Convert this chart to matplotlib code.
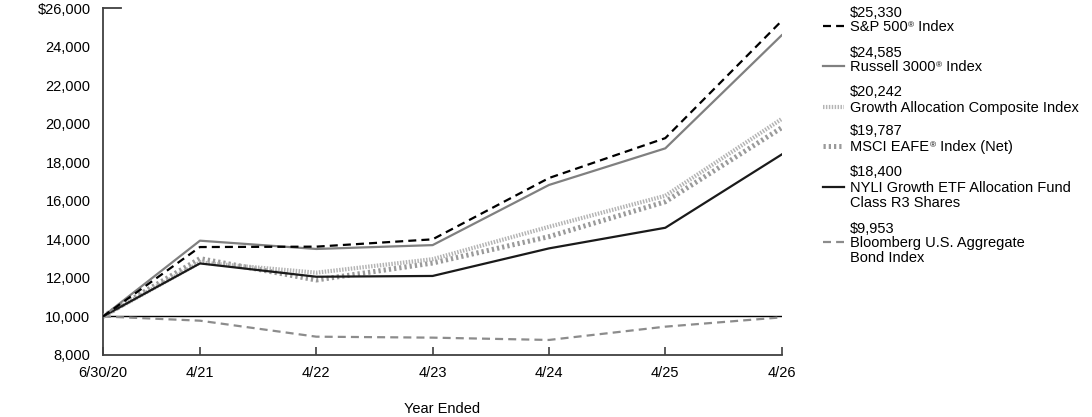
import matplotlib.pyplot as plt
import matplotlib.transforms as mtransforms

plt.rcParams['font.family'] = ['Liberation Sans', 'DejaVu Sans']

# months since 6/30/20
months = [0, 10, 22, 34, 46, 58, 70]
tick_labels = ['6/30/20', '4/21', '4/22', '4/23', '4/24', '4/25', '4/26']

sp500 = [10000, 13600, 13620, 14000, 17180, 19250, 25330]
russell = [10000, 13930, 13500, 13700, 16820, 18720, 24585]
growth_comp = [10000, 12800, 12270, 12970, 14650, 16260, 20242]
msci = [10000, 13000, 11890, 12770, 14140, 15950, 19787]
fund = [10000, 12750, 12060, 12100, 13530, 14600, 18400]
bond = [10000, 9780, 8950, 8900, 8780, 9470, 9953]

end_values = ['$25,330', '$24,585', '$20,242', '$19,787', '$18,400', '$9,953']
# (text before ®, text after ®) or plain lines
names = [[('S&P 500', ' Index')], [('Russell 3000', ' Index')],
         ['Growth Allocation Composite Index'], [('MSCI EAFE', ' Index (Net)')],
         ['NYLI Growth ETF Allocation Fund', 'Class R3 Shares'],
         ['Bloomberg U.S. Aggregate', 'Bond Index']]

styles = [
    dict(color='black', lw=1.6, dashes=(3.6, 2.3)),
    dict(color='#808080', lw=1.6),
    dict(color='#b4b4b4', lw=3.0, dashes=(0.35, 0.35)),
    dict(color='#9a9a9a', lw=3.6, dashes=(0.45, 0.6)),
    dict(color='#1a1a1a', lw=1.6),
    dict(color='#8c8c8c', lw=1.6, dashes=(3.6, 2.3)),
]

fs = 10.5
fig = plt.figure(figsize=(10.92, 4.17), dpi=100)
ax = fig.add_axes([0.0943, 0.1487, 0.6215, 0.8321])

ax.axhline(10000, color='black', lw=1.0, zorder=1)
series = [sp500, russell, growth_comp, msci, fund, bond]
order = [5, 3, 2, 4, 1, 0]
for z, i in enumerate(order):
    ax.plot(months, series[i], zorder=2 + z, **styles[i])

ax.set_xlim(0, 70)
ax.set_ylim(8000, 26000)
ax.set_xticks(months)
ax.set_xticklabels(tick_labels, fontsize=fs)
yt = list(range(8000, 26001, 2000))
ax.set_yticks(yt)
ax.set_yticklabels([('$' if v == 26000 else '') + f'{v:,}' for v in yt], fontsize=fs)
ax.tick_params(axis='y', length=0, pad=9)
ax.tick_params(axis='x', direction='in', length=6, width=1.2, color='#404040', pad=8)

for s in ['top', 'right']:
    ax.spines[s].set_visible(False)
for s in ['left', 'bottom']:
    ax.spines[s].set_color('#404040')
    ax.spines[s].set_linewidth(1.3)

# short line at top of axis
tr = mtransforms.blended_transform_factory(ax.transAxes, ax.transData)
ax.plot([0, 0.027], [26000, 26000], color='#404040', lw=1.3, transform=tr, clip_on=False)

ax.set_xlabel('Year Ended', fontsize=fs, labelpad=16)

# legend on the right
W, H = 1092, 417
renderer = fig.canvas.get_renderer()
rows = [(12, 26), (52, 66), (91, 107), (130, 146), (171, 187), (228, 242)]
for i, (yv, yn) in enumerate(rows):
    fig.text(850 / W, 1 - (yv + 5) / H, end_values[i], fontsize=fs, va='baseline', ha='left')
    for k, line in enumerate(names[i]):
        yb = 1 - (yn + 5 + 15 * k) / H
        if isinstance(line, tuple):
            t1 = fig.text(850 / W, yb, line[0], fontsize=fs, va='baseline', ha='left')
            x1 = t1.get_window_extent(renderer).x1 / W
            t2 = fig.text(x1 + 0.5 / W, yb + 3.5 / H, '\u00ae', fontsize=6, va='baseline', ha='left')
            x2 = t2.get_window_extent(renderer).x1 / W
            fig.text(x2, yb, line[1], fontsize=fs, va='baseline', ha='left')
        else:
            fig.text(850 / W, yb, line, fontsize=fs, va='baseline', ha='left')
    fig.add_artist(plt.Line2D([823 / W, 844 / W], [1 - yn / H, 1 - yn / H],
                              transform=fig.transFigure, **styles[i]))

fig.savefig('out.png', dpi=100)
